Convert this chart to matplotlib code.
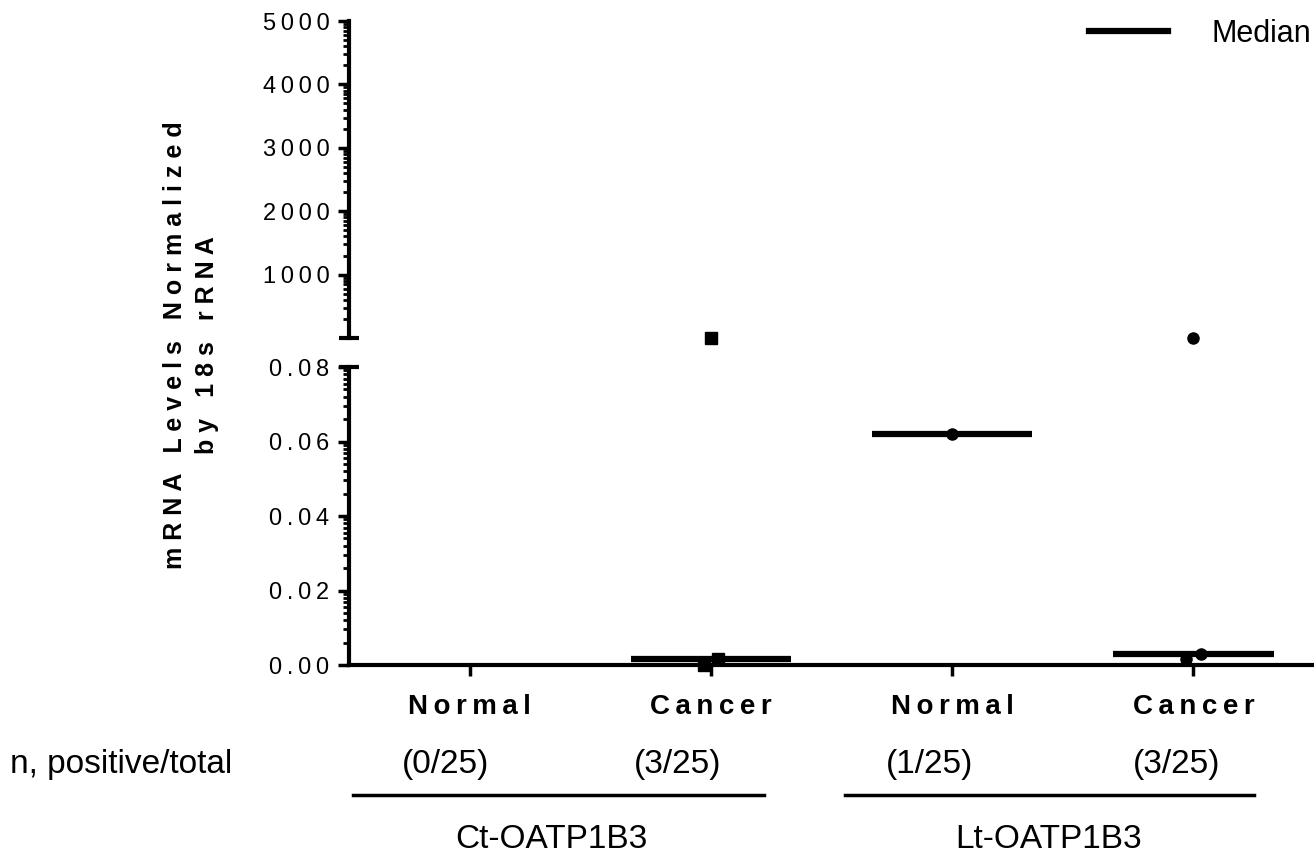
import matplotlib
matplotlib.use("Agg")
import matplotlib.pyplot as plt
import matplotlib.transforms as mtransforms
from matplotlib.ticker import FixedLocator, FuncFormatter
from matplotlib.lines import Line2D
import numpy as np

plt.rcParams["font.family"] = ["Liberation Sans", "DejaVu Sans"]

# data
groups = ["Normal", "Cancer", "Normal", "Cancer"]
markers = ["s", "s", "o", "o"]
ct_normal = []
ct_cancer = [0.0, 0.0016, 5.0]
lt_normal = [0.062]
lt_cancer = [0.0016, 0.003, 5.0]
values = [ct_normal, ct_cancer, lt_normal, lt_cancer]
n_labels = ["(0/25)", "(3/25)", "(1/25)", "(3/25)"]
gene_labels = ["Ct-OATP1B3", "Lt-OATP1B3"]

low_lim = (0, 0.08)
high_lim = (0, 5000)


def spaced(s, gap=" "):
    return gap.join(s)


def log_minors(step, lo, hi):
    # prism style minor ticks, log spaced inside each major interval
    out = []
    for m in np.arange(lo, hi, step):
        for k in range(2, 10):
            out.append(m + step * np.log10(k))
    return out


fig = plt.figure(figsize=(13.14, 8.55), dpi=100)
left, width = 349 / 1314, 965 / 1314
ax_hi = fig.add_axes([left, 1 - 338 / 855, width, 317 / 855])
ax_lo = fig.add_axes([left, 1 - 665 / 855, width, 298 / 855], sharex=ax_hi)

for ax in (ax_hi, ax_lo):
    for s in ("top", "right"):
        ax.spines[s].set_visible(False)
    ax.spines["left"].set_linewidth(3)
    ax.tick_params(axis="y", which="major", length=8, width=2.5, pad=6, labelsize=17)
    ax.tick_params(axis="y", which="minor", length=4, width=2)
ax_hi.spines["bottom"].set_visible(False)
ax_hi.tick_params(axis="x", which="both", bottom=False, labelbottom=False)
ax_lo.spines["bottom"].set_linewidth(3)

ax_hi.set_ylim(*high_lim)
ax_lo.set_ylim(*low_lim)
ax_lo.set_xlim(-0.5, 3.5)

ax_hi.yaxis.set_major_locator(FixedLocator([1000, 2000, 3000, 4000, 5000]))
ax_hi.yaxis.set_minor_locator(FixedLocator(log_minors(1000, 0, 5000)))
ax_hi.yaxis.set_major_formatter(FuncFormatter(lambda v, p: spaced(f"{v:.0f}", "\u2009")))
ax_lo.yaxis.set_major_locator(FixedLocator([0, 0.02, 0.04, 0.06, 0.08]))
ax_lo.yaxis.set_minor_locator(FixedLocator(log_minors(0.02, 0, 0.08)))
ax_lo.yaxis.set_major_formatter(FuncFormatter(lambda v, p: spaced(f"{v:.2f}", "\u2009")))

# break caps
ax_hi.plot([0], [0], marker="_", ms=14, mew=3, color="black",
           transform=ax_hi.transAxes, clip_on=False)
ax_lo.plot([0], [1], marker="_", ms=14, mew=3, color="black",
           transform=ax_lo.transAxes, clip_on=False)

x = np.arange(len(groups))
ax_lo.set_xticks(x)
ax_lo.set_xticklabels([spaced(g, "\u2009") for g in groups], fontweight="bold", fontsize=20)
ax_lo.tick_params(axis="x", length=8, width=2.5, pad=13)

# points and medians
offsets = [-0.03, 0.03, 0.0]
for i, vals in enumerate(values):
    for j, v in enumerate(vals):
        dx = offsets[j] if len(vals) > 1 else 0.0
        ax = ax_hi if v > low_lim[1] else ax_lo
        ax.plot(x[i] + dx, v, marker=markers[i], ms=8, color="black",
                linestyle="none", clip_on=False, zorder=4)
    if len(vals):
        med = np.median(vals)
        ax_lo.plot([x[i] - 0.333, x[i] + 0.333], [med, med], color="black",
                   lw=4.5, solid_capstyle="butt", clip_on=False, zorder=3)

# y label
fig.text(191 / 1314, 1 - 345 / 855,
         spaced("mRNA Levels Normalized") + "\n" + spaced("by 18s rRNA"),
         rotation=90, ha="center", va="center", multialignment="center",
         fontweight="bold", fontsize=18, linespacing=1.4)

# legend
fig.legend([Line2D([], [], color="black", lw=4.5)], ["Median"],
           loc="upper right", bbox_to_anchor=(1.0, 1 - 16 / 855), frameon=False,
           fontsize=22, handlelength=2.6, handletextpad=1.4, borderaxespad=0.0,
           borderpad=0.1)

# n, positive/total row and group underlines
bt = mtransforms.blended_transform_factory(ax_lo.transData, fig.transFigure)
fig.text(10 / 1314, 1 - 764 / 855, "n, positive/total", ha="left", va="center", fontsize=24)
n_x = [-0.098, 0.864, 1.908, 2.932]
for xi, lab in zip(n_x, n_labels):
    ax_lo.text(xi, 1 - 764 / 855, lab, transform=bt, ha="center", va="center", fontsize=24)

spans = [(-0.483, 1.219), (1.558, 3.252)]
centers = [0.34, 2.40]
for (a, b), c, lab in zip(spans, centers, gene_labels):
    ax_lo.plot([a, b], [1 - 795 / 855] * 2, color="black", lw=2.5,
               transform=bt, clip_on=False)
    ax_lo.text(c, 1 - 839 / 855, lab, transform=bt,
               ha="center", va="center", fontsize=24)

fig.savefig("out.png", dpi=100)
